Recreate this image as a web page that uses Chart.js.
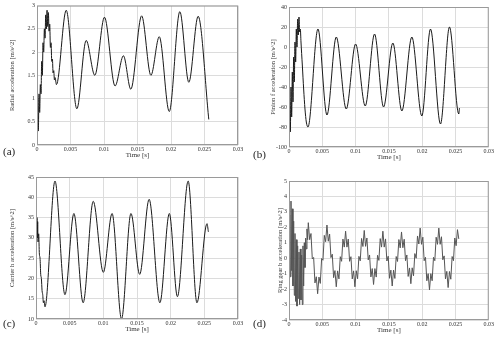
<!DOCTYPE html>
<html>
<head>
<meta charset="utf-8">
<script src="https://cdn.jsdelivr.net/npm/chart.js@4"></script>
<style>
  body { margin: 0; background: #fff; }
  #wrap { position: relative; width: 500px; height: 339px; overflow: hidden; }
  .panel { position: absolute; }
  .tag { position: absolute; font-family: "Liberation Serif", serif; font-size: 11px; color: #222; }
</style>
</head>
<body>
<div id="wrap">
  <div class="panel" style="left:0;top:0;width:245px;height:159px"><canvas id="chartA"></canvas></div>
  <div class="panel" style="left:250px;top:0;width:245px;height:161px"><canvas id="chartB"></canvas></div>
  <div class="panel" style="left:0;top:170px;width:245px;height:163px"><canvas id="chartC"></canvas></div>
  <div class="panel" style="left:250px;top:170px;width:245px;height:164px"><canvas id="chartD"></canvas></div>
  <div class="tag" style="left:3px;top:145px">(a)</div>
  <div class="tag" style="left:253px;top:148px">(b)</div>
  <div class="tag" style="left:3px;top:317px">(c)</div>
  <div class="tag" style="left:253px;top:317px">(d)</div>
</div>
<script>
// x axis (shared)
const xTicks = [0, 0.005, 0.01, 0.015, 0.02, 0.025, 0.03];
const xTickLabels = ['0', '0.005', '0.01', '0.015', '0.02', '0.025', '0.03'];

// (a) radial acceleration
const timeA = [0, 0.0001, 0.0002, 0.0003, 0.0004, 0.0005, 0.0006, 0.0007, 0.0008, 0.0009,
  0.0010, 0.0011, 0.0012, 0.0013, 0.0014, 0.0015, 0.0016, 0.0017, 0.0018, 0.0019,
  0.0020, 0.0021, 0.0022, 0.0023, 0.0024, 0.0025, 0.0026, 0.0027, 0.0029,
  0.00436, 0.00595, 0.00734, 0.00863, 0.01007, 0.01165, 0.0129, 0.0140, 0.01562,
  0.0170, 0.01825, 0.01974, 0.02132, 0.02266, 0.02405, 0.02564];
const accelA = [0.05, 1.0, 0.3, 1.1, 0.7, 1.3, 1.1, 1.8, 1.5, 2.2,
  2.0, 2.5, 2.3, 2.8, 2.5, 2.9, 2.55, 2.85, 2.45, 2.6,
  2.1, 2.2, 1.8, 1.85, 1.55, 1.6, 1.4, 1.45, 1.3,
  2.9, 0.78, 2.25, 1.5, 2.75, 1.27, 1.92, 1.2, 2.78,
  1.5, 2.33, 0.72, 2.87, 1.35, 2.77, 0.55];
const yTicksA = [0, 0.5, 1, 1.5, 2, 2.5, 3];
const yLabelsA = ['0', '0.5', '1', '1.5', '2', '2.5', '3'];

// (b) pinion f acceleration
const timeB = [0, 0.0001, 0.0002, 0.0003, 0.0004, 0.0005, 0.0006, 0.0007, 0.0008, 0.0009,
  0.0010, 0.0011, 0.0012, 0.0013, 0.0014, 0.0015, 0.0016, 0.0017, 0.0018,
  0.0020, 0.0022, 0.0024, 0.0026, 0.00285,
  0.00435, 0.0057, 0.0071, 0.0086, 0.0100, 0.01145, 0.01285, 0.0142, 0.0156,
  0.01695, 0.01845, 0.01995, 0.02125, 0.02275, 0.0241, 0.0255, 0.0256];
const accelB = [-92, -55, -85, -40, -70, -25, -55, -10, -35, 5,
  -15, 18, 0, 28, 12, 30, 15, 18, 5,
  -18, -42, -62, -75, -80,
  18, -68, 10, -62, 3, -59, 13, -60, 4,
  -64, 10, -69, 18, -77, 20, -67, -61];
const yTicksB = [-100, -80, -60, -40, -20, 0, 20, 40];
const yLabelsB = ['-100', '-80', '-60', '-40', '-20', '0', '20', '40'];

// (c) carrier h acceleration
const timeC = [0, 0.00005, 0.0001, 0.00015, 0.0002, 0.00025, 0.0003, 0.0004, 0.0005, 0.0006,
  0.0007, 0.0008, 0.0009, 0.0010, 0.0011, 0.0012, 0.00133,
  0.00282, 0.0043, 0.00563, 0.0070, 0.0085, 0.0100, 0.0113, 0.0127, 0.0141,
  0.0154, 0.0168, 0.0184, 0.0198, 0.0210, 0.0226, 0.0239, 0.0254, 0.0256];
const accelC = [30, 36, 31, 35, 30, 34, 29, 31, 26, 25,
  21, 20, 17, 16, 14, 14.5, 13,
  44, 16, 36, 14, 39, 21.5, 36, 10, 36,
  21, 39.5, 14, 36, 15.5, 44, 14, 33.5, 31.5];
const yTicksC = [10, 15, 20, 25, 30, 35, 40, 45];
const yLabelsC = ['10', '15', '20', '25', '30', '35', '40', '45'];

// (d) ring gear b acceleration
const timeD = [0, 0.0001, 0.0002, 0.0003, 0.0004, 0.0005, 0.0006, 0.0007, 0.0008, 0.0009,
  0.0010, 0.0011, 0.0012, 0.0013, 0.0014, 0.0015, 0.0016, 0.0017, 0.0018, 0.0019,
  0.0020, 0.0021, 0.0022, 0.0023, 0.0024, 0.0025, 0.0026, 0.0027, 0.0028, 0.0029,
  0.0031, 0.0033, 0.0035, 0.0037, 0.0039, 0.0041, 0.0043,
  0.0045, 0.0047, 0.0049, 0.0051, 0.0053, 0.0055, 0.0057,
  0.0059, 0.0061, 0.0063, 0.0065, 0.0067, 0.0069, 0.0071,
  0.0073, 0.0075, 0.0077, 0.0079, 0.0081, 0.0083, 0.0085,
  0.0087, 0.0089, 0.0091, 0.0093, 0.0095, 0.0097, 0.0099,
  0.0101, 0.0103, 0.0105, 0.0107, 0.0109, 0.0111, 0.0113,
  0.0115, 0.0117, 0.0119, 0.0121, 0.0123, 0.0125, 0.0127,
  0.0129, 0.0131, 0.0133, 0.0135, 0.0137, 0.0139, 0.0141,
  0.0143, 0.0145, 0.0147, 0.0149, 0.0151, 0.0153, 0.0155,
  0.0157, 0.0159, 0.0161, 0.0163, 0.0165, 0.0167, 0.0169,
  0.0171, 0.0173, 0.0175, 0.0177, 0.0179, 0.0181, 0.0183,
  0.0185, 0.0187, 0.0189, 0.0191, 0.0193, 0.0195, 0.0197,
  0.0199, 0.0201, 0.0203, 0.0205, 0.0207, 0.0209, 0.0211,
  0.0213, 0.0215, 0.0217, 0.0219, 0.0221, 0.0223, 0.0225,
  0.0227, 0.0229, 0.0231, 0.0233, 0.0235, 0.0237, 0.0239,
  0.0241, 0.0243, 0.0245, 0.0247, 0.0249, 0.0251, 0.0253, 0.0255];
const accelD = [0.5, 2.8, -1.2, 3.7, -0.8, 3.2, -1.8, 2.4, -2.4, 1.6,
  -2.8, 1.2, -3.1, 0.8, -2.6, 0.4, -3.0, 0.6, -2.7, 0.2,
  -3.0, 0.8, -1.8, 1.0, -0.6, 1.3, 0.6, 1.9, 1.2, 2.3,
  1.2, 1.6, -0.05, 0.05, -1.6, -1.2, -2.3,
  -1.22, -1.63, -0.02, -0.13, 1.48, 1.07, 2.15,
  1.10, 1.56, 0.04, 0.26, -1.26, -0.80, -1.85,
  -0.82, -1.34, 0.10, -0.20, 1.24, 0.72, 1.75,
  0.72, 1.24, -0.20, 0.10, -1.34, -0.82, -1.85,
  -0.81, -1.33, 0.12, -0.17, 1.28, 0.76, 1.8,
  0.77, 1.31, -0.11, 0.21, -1.21, -0.67, -1.7,
  -0.67, -1.22, 0.19, -0.14, 1.27, 0.72, 1.75,
  0.72, 1.25, -0.18, 0.13, -1.30, -0.77, -1.8,
  -0.77, -1.31, 0.11, -0.21, 1.21, 0.67, 1.7,
  0.68, 1.23, -0.16, 0.21, -1.18, -0.63, -1.65,
  -0.62, -1.14, 0.30, 0.00, 1.44, 0.92, 1.95,
  0.90, 1.36, -0.16, 0.06, -1.46, -1.00, -2.05,
  -1.00, -1.46, 0.06, -0.16, 1.36, 0.90, 1.95,
  0.90, 1.39, -0.10, 0.15, -1.34, -0.85, -1.9,
  -0.86, -1.36, 0.11, -0.16, 1.31, 0.81, 1.85, 1.25];
const yTicksD = [-4, -3, -2, -1, 0, 1, 2, 3, 4, 5];
const yLabelsD = ['-4', '-3', '-2', '-1', '0', '1', '2', '3', '4', '5'];

const serif = 'Liberation Serif';

// draws the full box round the plot area, like matlab
const boxPlugin = {
  id: 'box',
  afterDraw(chart) {
    const a = chart.chartArea;
    const ctx = chart.ctx;
    ctx.save();
    ctx.strokeStyle = '#9a9a9a';
    ctx.lineWidth = 1;
    ctx.strokeRect(a.left + 0.5, a.top + 0.5, a.right - a.left - 1, a.bottom - a.top - 1);
    ctx.restore();
  }
};

function makeChart(id, times, values, yTicks, yLabels, yTitle, opts) {
  const points = times.map((t, i) => ({ x: t, y: values[i] }));
  return new Chart(document.getElementById(id), {
    type: 'line',
    data: {
      datasets: [{
        data: points,
        borderColor: opts.color,
        borderWidth: opts.width,
        pointRadius: 0,
        fill: false,
        cubicInterpolationMode: opts.smooth ? 'monotone' : 'default',
        tension: 0
      }]
    },
    plugins: [boxPlugin],
    options: {
      responsive: true,
      maintainAspectRatio: false,
      animation: false,
      layout: { padding: opts.pad },
      plugins: { legend: { display: false }, tooltip: { enabled: false } },
      scales: {
        x: {
          type: 'linear',
          min: 0,
          max: 0.03,
          afterBuildTicks: (s) => { s.ticks = xTicks.map(v => ({ value: v })); },
          afterFit: (s) => { s.height = opts.xh; },
          grid: { color: '#dcdcdc', drawTicks: false },
          border: { display: false },
          ticks: {
            padding: 1,
            maxRotation: 0,
            autoSkip: false,
            color: '#333',
            font: { family: serif, size: 6 },
            callback: (v) => xTickLabels[xTicks.indexOf(v)]
          },
          title: {
            display: true,
            text: 'Time [s]',
            color: '#333',
            padding: { top: 0, bottom: 0 },
            font: { family: serif, size: 7 }
          }
        },
        y: {
          min: yTicks[0],
          max: yTicks[yTicks.length - 1],
          afterBuildTicks: (s) => { s.ticks = yTicks.map(v => ({ value: v })); },
          afterFit: (s) => { s.width = opts.yw; },
          grid: { color: '#dcdcdc', drawTicks: false },
          border: { display: false },
          ticks: {
            padding: 2,
            autoSkip: false,
            color: '#333',
            font: { family: serif, size: 6 },
            callback: (v) => yLabels[yTicks.indexOf(v)]
          },
          title: {
            display: true,
            text: yTitle,
            color: '#333',
            padding: { top: opts.tpad, bottom: 0 },
            font: { family: serif, size: 6.5 }
          }
        }
      }
    }
  });
}

makeChart('chartA', timeA, accelA, yTicksA, yLabelsA, 'Radial acceleration [m/s^2]',
  { color: '#1a1a1a', width: 1, smooth: true, pad: { top: 5, right: 7, left: 0, bottom: 0 }, yw: 37, xh: 14, tpad: 8 });
makeChart('chartB', timeB, accelB, yTicksB, yLabelsB, 'Pinion f acceleration [m/s^2]',
  { color: '#1a1a1a', width: 1, smooth: true, pad: { top: 7, right: 6, left: 0, bottom: 0 }, yw: 39, xh: 14, tpad: 19 });
makeChart('chartC', timeC, accelC, yTicksC, yLabelsC, 'Carrier h acceleration [m/s^2]',
  { color: '#1a1a1a', width: 1, smooth: true, pad: { top: 7, right: 7, left: 0, bottom: 0 }, yw: 36, xh: 14, tpad: 8 });
makeChart('chartD', timeD, accelD, yTicksD, yLabelsD, 'Ring gear b acceleration [m/s^2]',
  { color: '#555', width: 1, smooth: false, pad: { top: 11, right: 5, left: 0, bottom: 0 }, yw: 39, xh: 14, tpad: 26 });
</script>
</body>
</html>
